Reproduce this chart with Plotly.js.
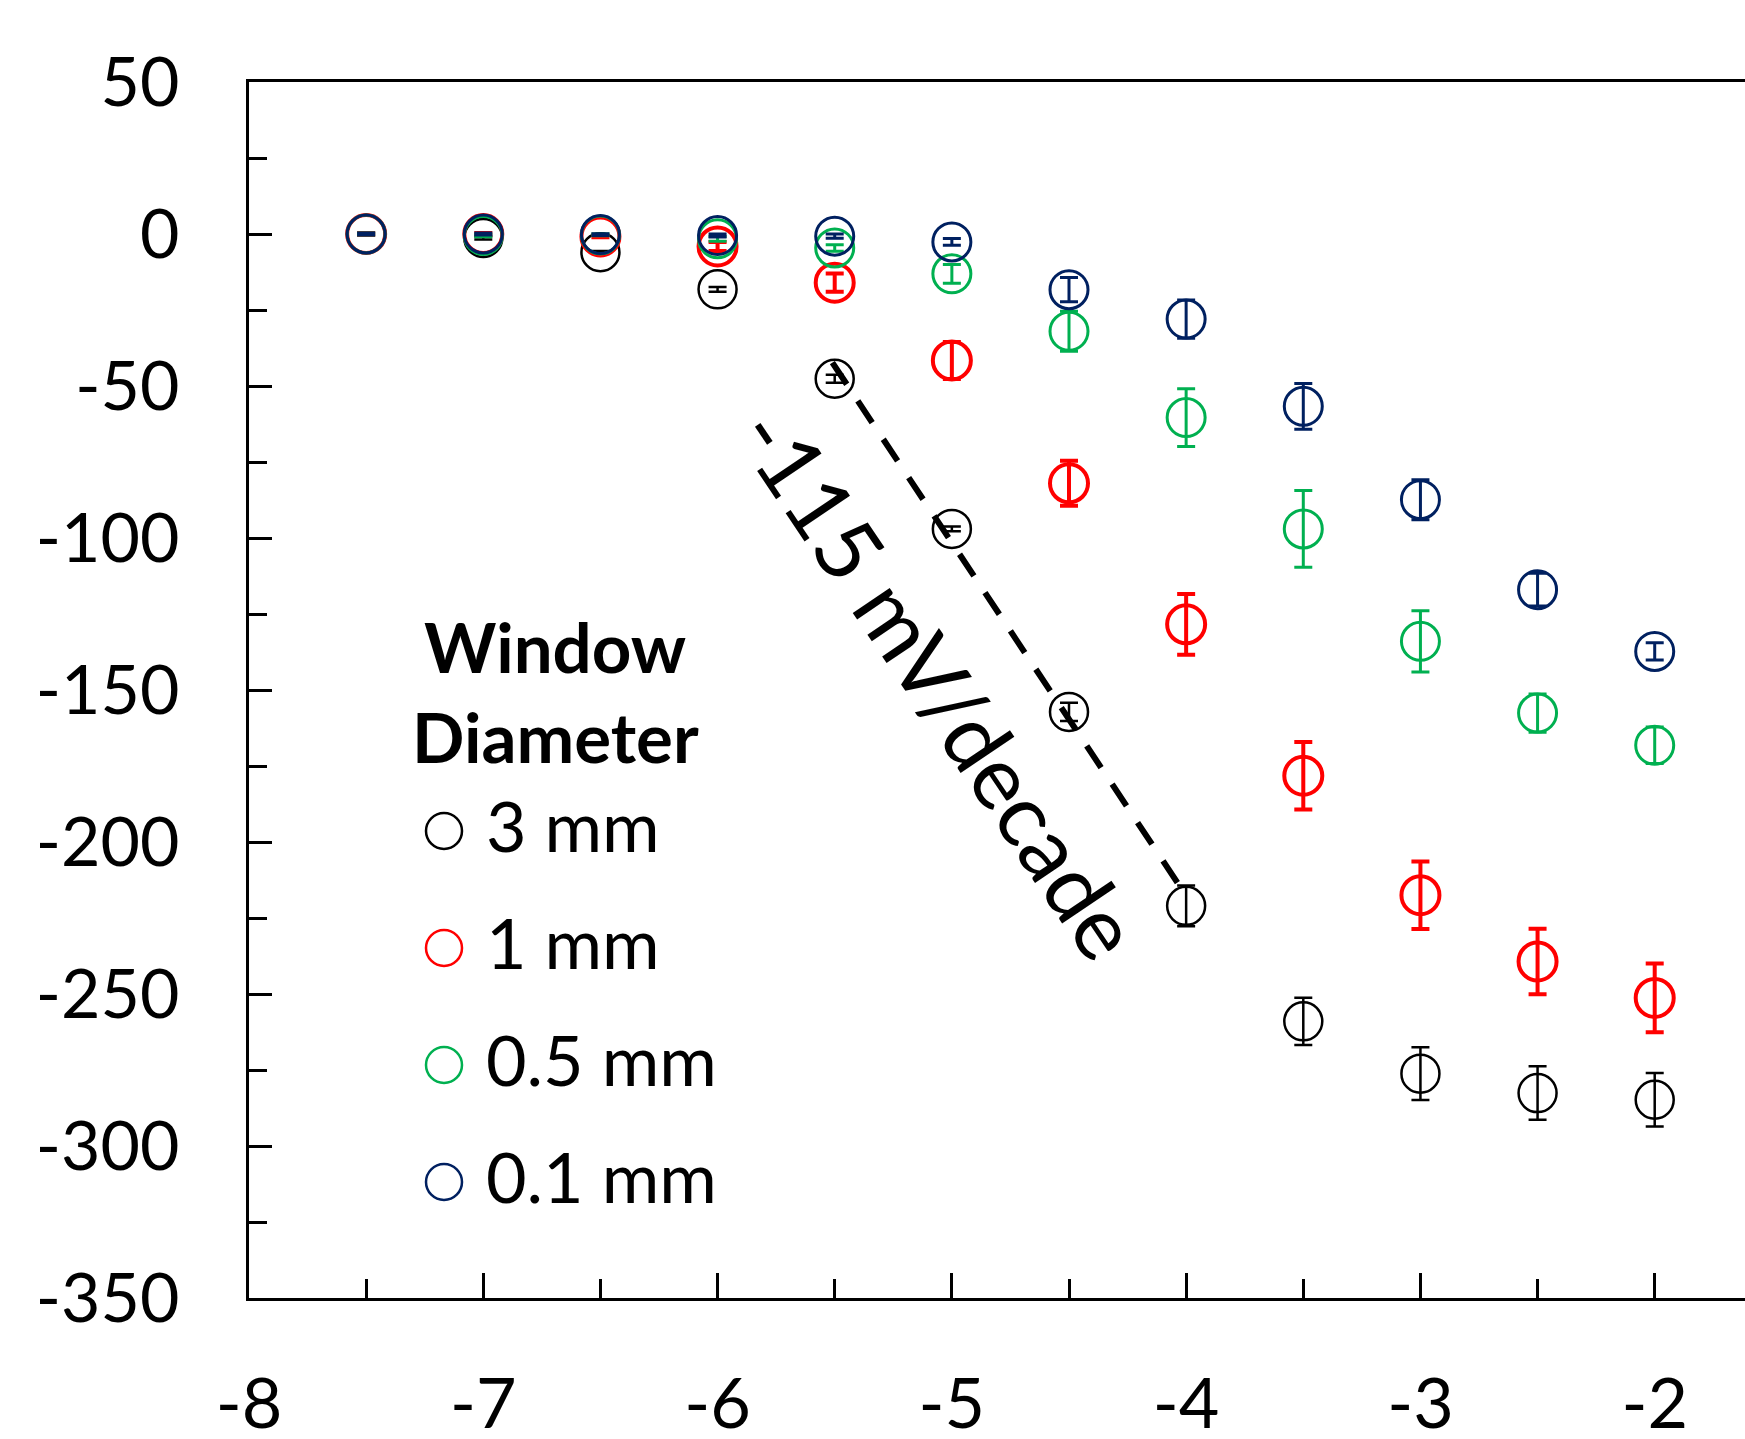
<!DOCTYPE html>
<html>
<head>
<meta charset="utf-8">
<script src="https://cdn.plot.ly/plotly-3.0.1.min.js"></script>
<style>
  html, body { margin: 0; padding: 0; overflow: hidden; background: #fff; }
  #chart { width: 1950px; height: 1439px; }
</style>
</head>
<body>
<div id="chart"></div>
<script>
// ---- data ----
const logConc = [-7.5, -7, -6.5, -6, -5.5, -5, -4.5, -4, -3.5, -3, -2.5, -2];

const seriesNames = ["3 mm", "1 mm", "0.5 mm", "0.1 mm"];

const v3mm   = [0, -1.3, -6.0, -18.2, -47.6, -97.0, -157.2, -221.0, -259.0, -276.2, -282.6, -284.8];
const e3mm   = [0.3, 0.5, 0.4, 0.8, 1.3, 0.8, 3.0, 6.7, 7.8, 8.7, 8.8, 8.8];

const v1mm   = [0, 0, -0.8, -4.1, -16.0, -41.6, -82.0, -128.4, -178.2, -217.5, -239.3, -251.3];
const e1mm   = [0.3, 0.3, 0.3, 1.5, 3.0, 6.1, 7.4, 10.0, 11.1, 11.1, 10.8, 11.3];

const v05mm  = [0, -0.5, -0.3, -1.6, -4.6, -13.1, -32.0, -60.4, -97.0, -134.0, -157.6, -168.2];
const e05mm  = [0.3, 0.4, 0.3, 0.8, 1.1, 3.1, 6.6, 9.5, 12.6, 10.1, 6.3, 6.0];

const v01mm  = [0, 0, -0.2, -0.5, -0.7, -2.6, -18.3, -28.0, -56.7, -87.4, -117.0, -137.3];
const e01mm  = [0.3, 0.3, 0.3, 0.5, 0.7, 1.1, 4.0, 6.3, 7.5, 6.6, 5.4, 2.85];

// slope guide line (-115 mV/decade), end points
const fitX = [-5.51, -4.036];
const fitY = [-42.3, -213.5];

const xTickVals = [-8, -7, -6, -5, -4, -3, -2];
const xTickText = ["-8", "-7", "-6", "-5", "-4", "-3", "-2"];
const yTickVals = [-350, -300, -250, -200, -150, -100, -50, 0, 50];
const yTickText = ["-350", "-300", "-250", "-200", "-150", "-100", "-50", "0", "50"];

const slopeLabel = "-115 mV/decade";
const legendTitle = ["Window", "Diameter"];

// ---- styles ----
const colors = ["#000000", "#FF0000", "#00B050", "#002060"];
const lineW  = [2.5, 4, 3, 3];
const FONT = "Lato, 'Open Sans', sans-serif";

const values = [v3mm, v1mm, v05mm, v01mm];
const errors = [e3mm, e1mm, e05mm, e01mm];

const traces = values.map((v, i) => ({
  type: "scatter",
  mode: "markers",
  name: seriesNames[i],
  x: logConc,
  y: v,
  showlegend: false,
  marker: {
    symbol: "circle-open",
    size: 38,
    color: colors[i],
    line: { color: colors[i], width: lineW[i] }
  },
  error_y: {
    type: "data",
    array: errors[i],
    visible: true,
    color: colors[i],
    thickness: lineW[i],
    width: 9
  },
  cliponaxis: false
}));

traces.push({
  type: "scatter",
  mode: "lines",
  x: fitX,
  y: fitY,
  showlegend: false,
  line: { color: "#000", width: 6, dash: "26px,20px" }
});

// ---- geometry ----
const W = 1950, H = 1439;
const mL = 249, mT = 82, mB = 141, mR = 61;
const plotW = W - mL - mR, plotH = H - mT - mB;
const px = x => (x - mL) / plotW;
const py = y => (H - mB - y) / plotH;

const shapes = [];
const annotations = [];

// legend title
annotations.push({
  xref: "paper", yref: "paper", x: px(555), y: py(646),
  text: "<b>" + legendTitle[0] + "</b>", showarrow: false,
  xanchor: "center", yanchor: "middle",
  font: { family: FONT, size: 69, color: "#000" }
});
annotations.push({
  xref: "paper", yref: "paper", x: px(555), y: py(736),
  text: "<b>" + legendTitle[1] + "</b>", showarrow: false,
  xanchor: "center", yanchor: "middle",
  font: { family: FONT, size: 69, color: "#000" }
});

// legend entries
const legendRowsY = [831, 948, 1065, 1182];
seriesNames.forEach((name, i) => {
  shapes.push({
    type: "circle",
    xref: "paper", yref: "paper",
    xsizemode: "pixel", ysizemode: "pixel",
    xanchor: px(444), yanchor: py(legendRowsY[i]),
    x0: -18, x1: 18, y0: -18, y1: 18,
    line: { color: colors[i], width: 2.5 },
    fillcolor: "rgba(0,0,0,0)"
  });
  annotations.push({
    xref: "paper", yref: "paper", x: px(484), y: py(legendRowsY[i] - 6),
    text: name, showarrow: false,
    xanchor: "left", yanchor: "middle",
    font: { family: FONT, size: 70, color: "#000" }
  });
});

// slope label
annotations.push({
  xref: "x", yref: "y", x: -5.05, y: -147.5,
  text: slopeLabel, showarrow: false, textangle: 56,
  xanchor: "center", yanchor: "middle",
  font: { family: FONT, size: 88, color: "#000" }
});

const layout = {
  width: W, height: H,
  margin: { l: mL, r: mR, t: mT, b: mB, pad: 0 },
  paper_bgcolor: "#fff", plot_bgcolor: "#fff",
  showlegend: false,
  hovermode: false,
  font: { family: FONT, color: "#000" },
  xaxis: {
    range: [-8, -1],
    tickmode: "array", tickvals: xTickVals, ticktext: xTickText,
    ticks: "inside", ticklen: 25, tickwidth: 3, tickcolor: "#000",
    minor: { ticks: "inside", dtick: 0.5, tick0: -8, ticklen: 19, tickwidth: 3, tickcolor: "#000", showgrid: false },
    showline: true, linewidth: 3, linecolor: "#000", mirror: true,
    showgrid: false, zeroline: false,
    tickfont: { family: FONT, size: 70, color: "#000" },
    ticklabelstandoff: 43
  },
  yaxis: {
    range: [-350, 50],
    tickmode: "array", tickvals: yTickVals, ticktext: yTickText,
    ticks: "inside", ticklen: 23, tickwidth: 3, tickcolor: "#000",
    minor: { ticks: "inside", dtick: 25, tick0: 0, ticklen: 18, tickwidth: 3, tickcolor: "#000", showgrid: false },
    showline: true, linewidth: 3, linecolor: "#000",
    showgrid: false, zeroline: false,
    tickfont: { family: FONT, size: 68, color: "#000" },
    ticklabelstandoff: 53
  },
  shapes: shapes,
  annotations: annotations
};

Plotly.newPlot("chart", traces, layout, { staticPlot: true, displayModeBar: false });
</script>
</body>
</html>
